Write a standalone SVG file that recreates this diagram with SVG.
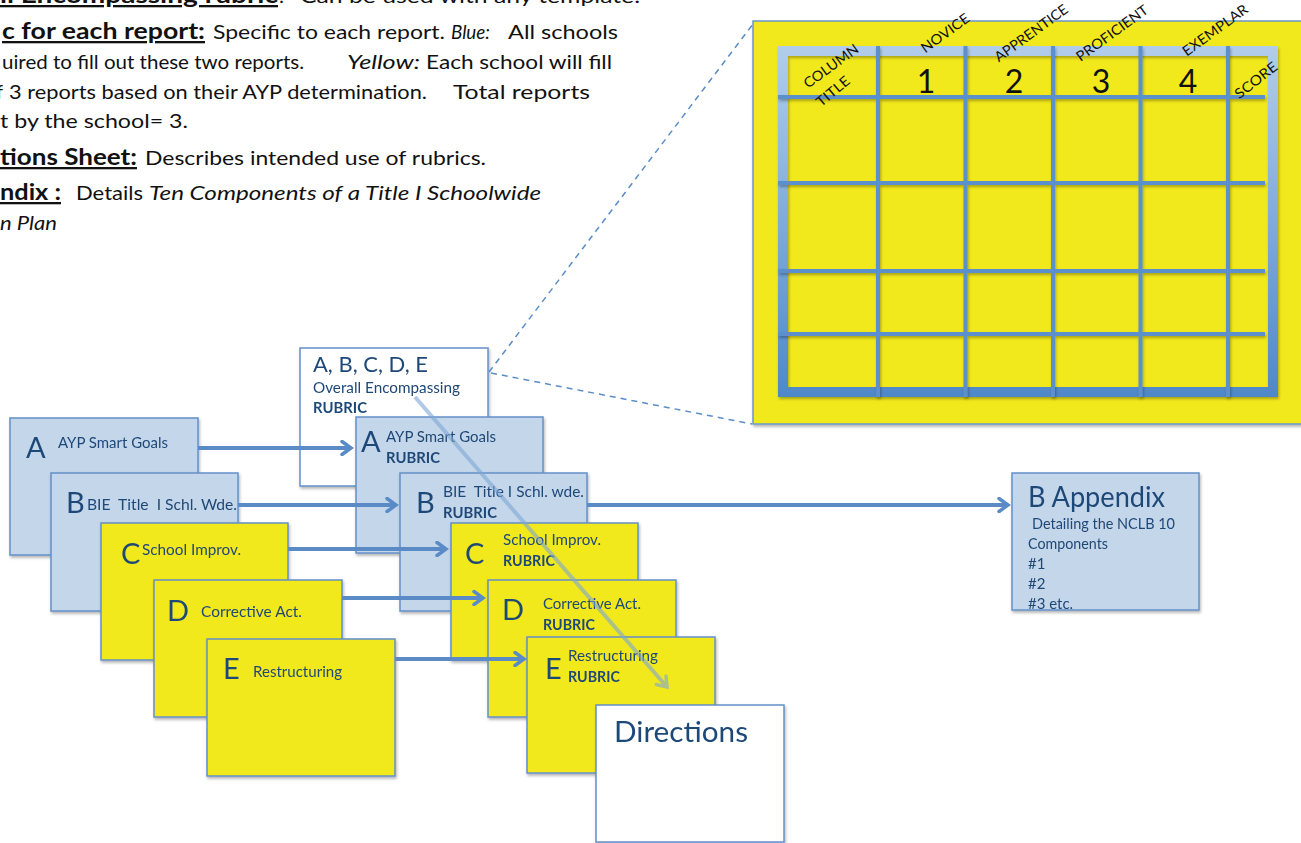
<svg xmlns="http://www.w3.org/2000/svg" width="1301" height="843" viewBox="0 0 1301 843">
  <style>
    .note { font-family: Lato, "Open Sans", sans-serif; font-size: 20px; fill: #111; }
    .head { font-family: Lato, "Open Sans", sans-serif; font-size: 23px; font-weight: bold; fill: #111; text-decoration: underline; }
    .it { font-style: italic; }
    .box-blue { fill: #c4d6ea; stroke: #6390c9; stroke-width: 1.5; }
    .box-yellow { fill: #f2e91b; stroke: #6390c9; stroke-width: 1.5; }
    .box-white { fill: #ffffff; stroke: #6390c9; stroke-width: 1.5; }
    .big { font-family: Lato, "Open Sans", sans-serif; font-size: 29px; fill: #1f4878; }
    .lbl { font-family: Lato, "Open Sans", sans-serif; font-size: 15px; fill: #1f4878; }
    .rub { font-family: Lato, "Open Sans", sans-serif; font-size: 15px; font-weight: bold; fill: #1f4878; }
    .hdr { font-family: Lato, "Open Sans", sans-serif; font-size: 14px; fill: #111; text-anchor: middle; }
    .num { font-family: Lato, "Open Sans", sans-serif; font-size: 32px; fill: #111; text-anchor: middle; }
    .arrow { stroke: #5a8bc7; stroke-width: 4; fill: none; }
    .dash { stroke: #5b8dc8; stroke-width: 1.5; fill: none; stroke-dasharray: 6 5; }
    .gridline { stroke: #5b90cc; stroke-width: 4; }
  </style>
  <defs>
    <filter id="shadow" x="-10%" y="-10%" width="130%" height="130%">
      <feDropShadow dx="1" dy="2" stdDeviation="1.5" flood-color="#000" flood-opacity="0.3"/>
    </filter>
    <linearGradient id="frameGrad" x1="0" y1="0" x2="0" y2="1">
      <stop offset="0" stop-color="#b2cdeb"/>
      <stop offset="1" stop-color="#4f88c8"/>
    </linearGradient>
    <marker id="head" viewBox="0 0 14 16" refX="11" refY="8" markerWidth="14" markerHeight="16" markerUnits="userSpaceOnUse" orient="auto">
      <path d="M2,1.5 L11,8 L2,14.5" fill="none" stroke="#5a8bc7" stroke-width="3.5" stroke-linecap="round" stroke-linejoin="miter"/>
    </marker>
    <marker id="headLight" viewBox="0 0 14 16" refX="11" refY="8" markerWidth="14" markerHeight="16" markerUnits="userSpaceOnUse" orient="auto">
      <path d="M2,1.5 L11,8 L2,14.5" fill="none" stroke="#7da6d6" stroke-width="3.5" stroke-linecap="round"/>
    </marker>
  </defs>

  <rect width="1301" height="843" fill="#ffffff"/>

  <!-- explanatory notes, top left -->
  <g id="notes">
    <text class="head" x="0" y="3" textLength="278" lengthAdjust="spacingAndGlyphs">ll Encompassing rubric</text>
    <text class="note" x="279" y="3">:</text>
    <text class="note" x="300" y="3" textLength="340" lengthAdjust="spacingAndGlyphs">Can be used with any template.</text>

    <text class="head" x="2" y="39" textLength="203" lengthAdjust="spacingAndGlyphs">c for each report:</text>
    <text class="note" x="213" y="39" textLength="232" lengthAdjust="spacingAndGlyphs">Specific to each report.</text>
    <text class="note it" x="451" y="39" textLength="39" lengthAdjust="spacingAndGlyphs">Blue:</text>
    <text class="note" x="508" y="39" textLength="110" lengthAdjust="spacingAndGlyphs">All schools</text>

    <text class="note" x="2" y="69" textLength="302" lengthAdjust="spacingAndGlyphs">uired to fill out these two reports.</text>
    <text class="note it" x="347" y="69" textLength="73" lengthAdjust="spacingAndGlyphs">Yellow:</text>
    <text class="note" x="426" y="69" textLength="186" lengthAdjust="spacingAndGlyphs">Each school will fill</text>

    <text class="note" x="-4" y="99">f</text>
    <text class="note" x="9" y="99" textLength="418" lengthAdjust="spacingAndGlyphs">3 reports based on their AYP determination.</text>
    <text class="note" x="453" y="99" textLength="137" lengthAdjust="spacingAndGlyphs">Total reports</text>

    <text class="note" x="0" y="128" textLength="188" lengthAdjust="spacingAndGlyphs">t by the school= 3.</text>

    <text class="head" x="0" y="165" textLength="137" lengthAdjust="spacingAndGlyphs">tions Sheet:</text>
    <text class="note" x="145" y="165" textLength="341" lengthAdjust="spacingAndGlyphs">Describes intended use of rubrics.</text>

    <text class="head" x="0" y="200" textLength="61" lengthAdjust="spacingAndGlyphs">ndix :</text>
    <text class="note" x="76" y="200" textLength="67" lengthAdjust="spacingAndGlyphs">Details</text>
    <text class="note it" x="149" y="200" textLength="392" lengthAdjust="spacingAndGlyphs">Ten Components of a Title I Schoolwide</text>

    <text class="note it" x="0" y="230" textLength="57" lengthAdjust="spacingAndGlyphs">n Plan</text>
  </g>

  <!-- rubric template grid -->
  <g id="rubric-grid">
    <rect x="753" y="21" width="560" height="403" fill="#f2e91b" stroke="#6a96cc" stroke-width="1.5" filter="url(#shadow)"/>
    <path d="M778,46 H1278 V397 H778 Z M788,56 V387 H1268 V56 Z" fill="url(#frameGrad)" fill-rule="evenodd" filter="url(#shadow)"/>
    <g class="gridline" filter="url(#shadow)">
      <line x1="878" y1="46" x2="878" y2="397"/>
      <line x1="965.5" y1="46" x2="965.5" y2="397"/>
      <line x1="1053" y1="46" x2="1053" y2="397"/>
      <line x1="1140.5" y1="46" x2="1140.5" y2="397"/>
      <line x1="1228" y1="46" x2="1228" y2="397"/>
      <line x1="778" y1="97" x2="1265" y2="97"/>
      <line x1="778" y1="183" x2="1265" y2="183"/>
      <line x1="778" y1="271" x2="1265" y2="271"/>
      <line x1="778" y1="334" x2="1265" y2="334"/>
    </g>
    <text class="hdr" transform="rotate(-36 834 70)" x="834" y="70" textLength="64" lengthAdjust="spacingAndGlyphs">COLUMN</text>
    <text class="hdr" transform="rotate(-40 836 95)" x="836" y="95" textLength="39" lengthAdjust="spacingAndGlyphs">TITLE</text>
    <text class="hdr" transform="rotate(-36 948 37)" x="948" y="37" textLength="56" lengthAdjust="spacingAndGlyphs">NOVICE</text>
    <text class="hdr" transform="rotate(-36 1034 37)" x="1034" y="37" textLength="87" lengthAdjust="spacingAndGlyphs">APPRENTICE</text>
    <text class="hdr" transform="rotate(-36 1115 37)" x="1115" y="37" textLength="85" lengthAdjust="spacingAndGlyphs">PROFICIENT</text>
    <text class="hdr" transform="rotate(-36 1218 34)" x="1218" y="34" textLength="77" lengthAdjust="spacingAndGlyphs">EXEMPLAR</text>
    <text class="hdr" transform="rotate(-38 1259 84)" x="1259" y="84" textLength="50" lengthAdjust="spacingAndGlyphs">SCORE</text>
    <text class="num" x="926" y="93">1</text>
    <text class="num" x="1014" y="93">2</text>
    <text class="num" x="1101" y="93">3</text>
    <text class="num" x="1188" y="93">4</text>
  </g>

  <!-- report templates, left stack -->
  <g id="left-a" filter="url(#shadow)">
    <rect class="box-blue" x="10" y="418" width="188" height="137"/>
    <text class="big" x="26" y="458">A</text>
    <text class="lbl" x="58" y="448" textLength="110" lengthAdjust="spacingAndGlyphs">AYP Smart Goals</text>
  </g>
  <g id="left-b" filter="url(#shadow)">
    <rect class="box-blue" x="51" y="473" width="187" height="138"/>
    <text class="big" x="66" y="513">B</text>
    <text class="lbl" x="87" y="510" textLength="150" lengthAdjust="spacingAndGlyphs" xml:space="preserve">BIE  Title  I Schl. Wde.</text>
  </g>
  <g id="left-c" filter="url(#shadow)">
    <rect class="box-yellow" x="101" y="523" width="187" height="137"/>
    <text class="big" x="121" y="564">C</text>
    <text class="lbl" x="142" y="555" textLength="99" lengthAdjust="spacingAndGlyphs">School Improv.</text>
  </g>
  <g id="left-d" filter="url(#shadow)">
    <rect class="box-yellow" x="154" y="580" width="188" height="137"/>
    <text class="big" x="167" y="621">D</text>
    <text class="lbl" x="201" y="617" textLength="101" lengthAdjust="spacingAndGlyphs">Corrective Act.</text>
  </g>
  <g id="left-e" filter="url(#shadow)">
    <rect class="box-yellow" x="207" y="639" width="188" height="137"/>
    <text class="big" x="223" y="679">E</text>
    <text class="lbl" x="253" y="677" textLength="89" lengthAdjust="spacingAndGlyphs">Restructuring</text>
  </g>

  <!-- rubrics, right stack -->
  <g id="overall-rubric" filter="url(#shadow)">
    <rect class="box-white" x="300" y="348" width="188" height="138"/>
    <text class="lbl" x="313" y="372" style="font-size:21px" textLength="115" lengthAdjust="spacingAndGlyphs">A, B, C, D, E</text>
    <text class="lbl" x="313" y="393" textLength="147" lengthAdjust="spacingAndGlyphs">Overall Encompassing</text>
    <text class="rub" x="313" y="413" textLength="54" lengthAdjust="spacingAndGlyphs">RUBRIC</text>
  </g>
  <g id="rubric-a" filter="url(#shadow)">
    <rect class="box-blue" x="356" y="417" width="187" height="136"/>
    <text class="big" x="361" y="452">A</text>
    <text class="lbl" x="386" y="442" textLength="110" lengthAdjust="spacingAndGlyphs">AYP Smart Goals</text>
    <text class="rub" x="386" y="463" textLength="54" lengthAdjust="spacingAndGlyphs">RUBRIC</text>
  </g>
  <g id="rubric-b" filter="url(#shadow)">
    <rect class="box-blue" x="400" y="473" width="187" height="138"/>
    <text class="big" x="416" y="513">B</text>
    <text class="lbl" x="443" y="497" textLength="141" lengthAdjust="spacingAndGlyphs" xml:space="preserve">BIE  Title I Schl. wde.</text>
    <text class="rub" x="443" y="518" textLength="54" lengthAdjust="spacingAndGlyphs">RUBRIC</text>
  </g>
  <g id="rubric-c" filter="url(#shadow)">
    <rect class="box-yellow" x="451" y="523" width="187" height="137"/>
    <text class="big" x="465" y="564">C</text>
    <text class="lbl" x="503" y="545" textLength="98" lengthAdjust="spacingAndGlyphs">School Improv.</text>
    <text class="rub" x="503" y="566" textLength="52" lengthAdjust="spacingAndGlyphs">RUBRIC</text>
  </g>
  <g id="rubric-d" filter="url(#shadow)">
    <rect class="box-yellow" x="488" y="580" width="188" height="137"/>
    <text class="big" x="502" y="620">D</text>
    <text class="lbl" x="543" y="609" textLength="98" lengthAdjust="spacingAndGlyphs">Corrective Act.</text>
    <text class="rub" x="543" y="630" textLength="52" lengthAdjust="spacingAndGlyphs">RUBRIC</text>
  </g>
  <g id="rubric-e" filter="url(#shadow)">
    <rect class="box-yellow" x="527" y="637" width="188" height="136"/>
    <text class="big" x="545" y="679">E</text>
    <text class="lbl" x="568" y="661" textLength="90" lengthAdjust="spacingAndGlyphs">Restructuring</text>
    <text class="rub" x="568" y="682" textLength="52" lengthAdjust="spacingAndGlyphs">RUBRIC</text>
  </g>
  <g id="directions" filter="url(#shadow)">
    <rect class="box-white" x="596" y="705" width="188" height="137"/>
    <text class="big" x="614" y="742" textLength="134" lengthAdjust="spacingAndGlyphs">Directions</text>
  </g>

  <!-- appendix -->
  <g id="appendix" filter="url(#shadow)">
    <rect x="1012" y="473" width="187" height="137" fill="#c4d6ea"/>
    <text class="big" x="1028" y="507" textLength="137" lengthAdjust="spacingAndGlyphs">B Appendix</text>
    <text class="lbl" x="1032" y="529" textLength="143" lengthAdjust="spacingAndGlyphs">Detailing the NCLB 10</text>
    <text class="lbl" x="1028" y="549" textLength="80" lengthAdjust="spacingAndGlyphs">Components</text>
    <text class="lbl" x="1028" y="569">#1</text>
    <text class="lbl" x="1028" y="589">#2</text>
    <text class="lbl" x="1028" y="609">#3 etc.</text>
    <rect x="1012" y="473" width="187" height="137" fill="none" stroke="#6390c9" stroke-width="1.5"/>
  </g>

  <!-- connectors -->
  <g id="connectors">
    <line class="dash" x1="489" y1="372" x2="753" y2="24"/>
    <line class="dash" x1="491" y1="373" x2="752" y2="424"/>
    <line class="arrow" x1="198" y1="448" x2="351" y2="448" marker-end="url(#head)"/>
    <line class="arrow" x1="238" y1="505" x2="396" y2="505" marker-end="url(#head)"/>
    <line class="arrow" x1="288" y1="549" x2="446" y2="549" marker-end="url(#head)"/>
    <line class="arrow" x1="342" y1="598" x2="483" y2="598" marker-end="url(#head)"/>
    <line class="arrow" x1="395" y1="659" x2="524" y2="659" marker-end="url(#head)"/>
    <line class="arrow" x1="587" y1="505" x2="1008" y2="505" marker-end="url(#head)"/>
    <g opacity="0.6">
      <line x1="415" y1="397" x2="667" y2="687" stroke="#7da6d6" stroke-width="4" marker-end="url(#headLight)"/>
    </g>
  </g>
</svg>
